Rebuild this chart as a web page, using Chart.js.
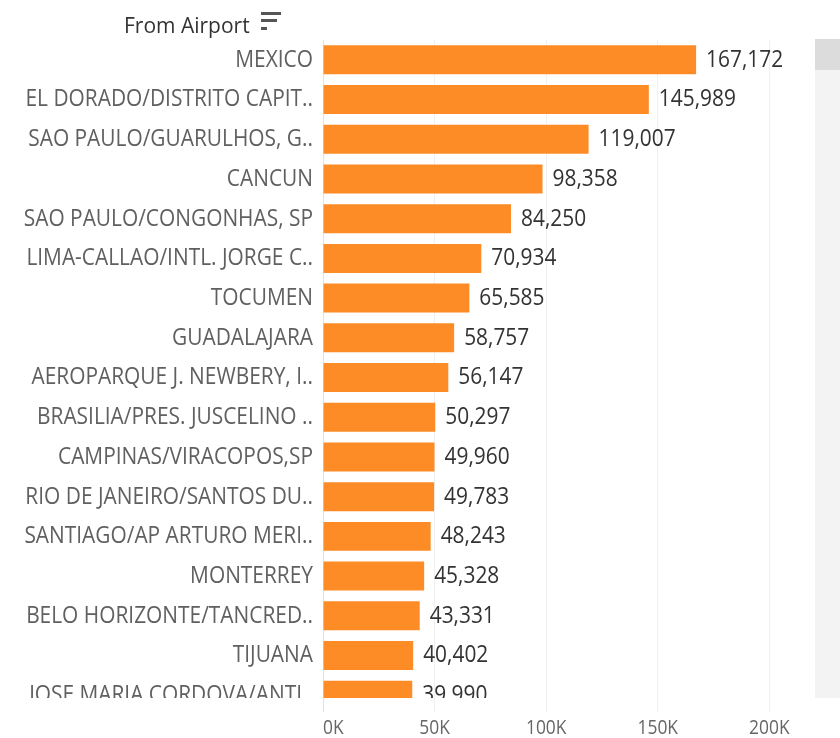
<!DOCTYPE html>
<html>
<head>
<meta charset="utf-8">
<script src="https://cdn.jsdelivr.net/npm/chart.js@4/dist/chart.umd.min.js"></script>
<style>
  body { margin: 0; background: #fff; }
  #wrap { position: relative; width: 840px; height: 738px; }
  #title { position: absolute; left: 124px; top: 11px; font: 21px "Open Sans", sans-serif; color: #333; white-space: nowrap; }
  .sortbar { position: absolute; left: 261px; height: 3px; background: #555; }
  #track { position: absolute; left: 815px; top: 39px; width: 25px; height: 659px; background: #f3f3f3; }
  #thumb { position: absolute; left: 815px; top: 39px; width: 25px; height: 31px; background: #dcdcdc; }
</style>
</head>
<body>
<div id="wrap">
  <div id="title">From Airport</div>
  <div class="sortbar" style="top:12px;width:20px"></div>
  <div class="sortbar" style="top:19px;width:16px"></div>
  <div class="sortbar" style="top:27px;width:6px"></div>
  <div id="track"></div>
  <div id="thumb"></div>
  <canvas id="chart" width="840" height="738"></canvas>
</div>
<script>
// from airport names, as shown (truncated) in the view
const airports = [
  "MEXICO",
  "EL DORADO/DISTRITO CAPIT..",
  "SAO PAULO/GUARULHOS, G..",
  "CANCUN",
  "SAO PAULO/CONGONHAS, SP",
  "LIMA-CALLAO/INTL. JORGE C..",
  "TOCUMEN",
  "GUADALAJARA",
  "AEROPARQUE J. NEWBERY, I..",
  "BRASILIA/PRES. JUSCELINO ..",
  "CAMPINAS/VIRACOPOS,SP",
  "RIO DE JANEIRO/SANTOS DU..",
  "SANTIAGO/AP ARTURO MERI..",
  "MONTERREY",
  "BELO HORIZONTE/TANCRED..",
  "TIJUANA",
  "JOSE MARIA CORDOVA/ANTI.."
];
const flights = [167172, 145989, 119007, 98358, 84250, 70934, 65585, 58757, 56147,
  50297, 49960, 49783, 48243, 45328, 43331, 40402, 39990];
const xTicks = [0, 50000, 100000, 150000, 200000];
const xMax = 220000;

function drawText(ctx, text, x, y, align, color) {
  ctx.save();
  ctx.translate(x, y);
  ctx.scale(0.87, 1);
  ctx.textAlign = align;
  ctx.fillStyle = color;
  ctx.fillText(text, 0, 0);
  ctx.restore();
}

const labelPlugin = {
  id: "labels",
  afterDatasetsDraw(chart) {
    const { ctx, chartArea, scales } = chart;
    const meta = chart.getDatasetMeta(0);
    ctx.save();
    ctx.beginPath();
    ctx.rect(0, chartArea.top, chartArea.right, chartArea.bottom - chartArea.top);
    ctx.clip();
    ctx.font = '24px "Open Sans"';
    ctx.textBaseline = "middle";
    airports.forEach((name, i) => {
      const yy = scales.y.getPixelForValue(i);
      drawText(ctx, name, chartArea.left - 10, yy, "right", "#606060");
      drawText(ctx, flights[i].toLocaleString("en-US"), meta.data[i].x + 10, yy, "left", "#333");
    });
    ctx.restore();

    // x axis labels (first one sits inside the plot like tableau does)
    ctx.save();
    ctx.font = '20px "Open Sans"';
    ctx.textBaseline = "middle";
    scales.x.ticks.forEach((t, i) => {
      const px = scales.x.getPixelForValue(t.value);
      drawText(ctx, t.value / 1000 + "K", px, chartArea.bottom + 30, i === 0 ? "left" : "center", "#666");
    });
    ctx.restore();
  }
};

new Chart(document.getElementById("chart"), {
  type: "bar",
  data: {
    datasets: [{
      data: airports.map((a, i) => ({ x: flights[i], y: i })),
      backgroundColor: "#fd8c27",
      barPercentage: 0.73,
      categoryPercentage: 1
    }]
  },
  options: {
    indexAxis: "y",
    responsive: false,
    animation: false,
    layout: { padding: { left: 323, right: 26, top: 40, bottom: 26 } },
    plugins: { legend: { display: false }, tooltip: { enabled: false } },
    scales: {
      x: {
        type: "linear",
        min: 0,
        max: xMax,
        border: { display: false },
        grid: {
          color: (c) => (c.tick && c.tick.value === 0 ? "#e2e2e2" : "#f0f0f0"),
          tickLength: 14
        },
        ticks: { display: false },
        afterBuildTicks: (s) => { s.ticks = xTicks.map((v) => ({ value: v })); }
      },
      y: {
        type: "linear",
        reverse: true,
        offset: false,
        grid: { offset: false },
        min: -0.5,
        max: 16.07,
        display: false,
        afterBuildTicks: (s) => { s.ticks = airports.map((a, i) => ({ value: i })); }
      }
    }
  },
  plugins: [labelPlugin]
});
</script>
</body>
</html>
